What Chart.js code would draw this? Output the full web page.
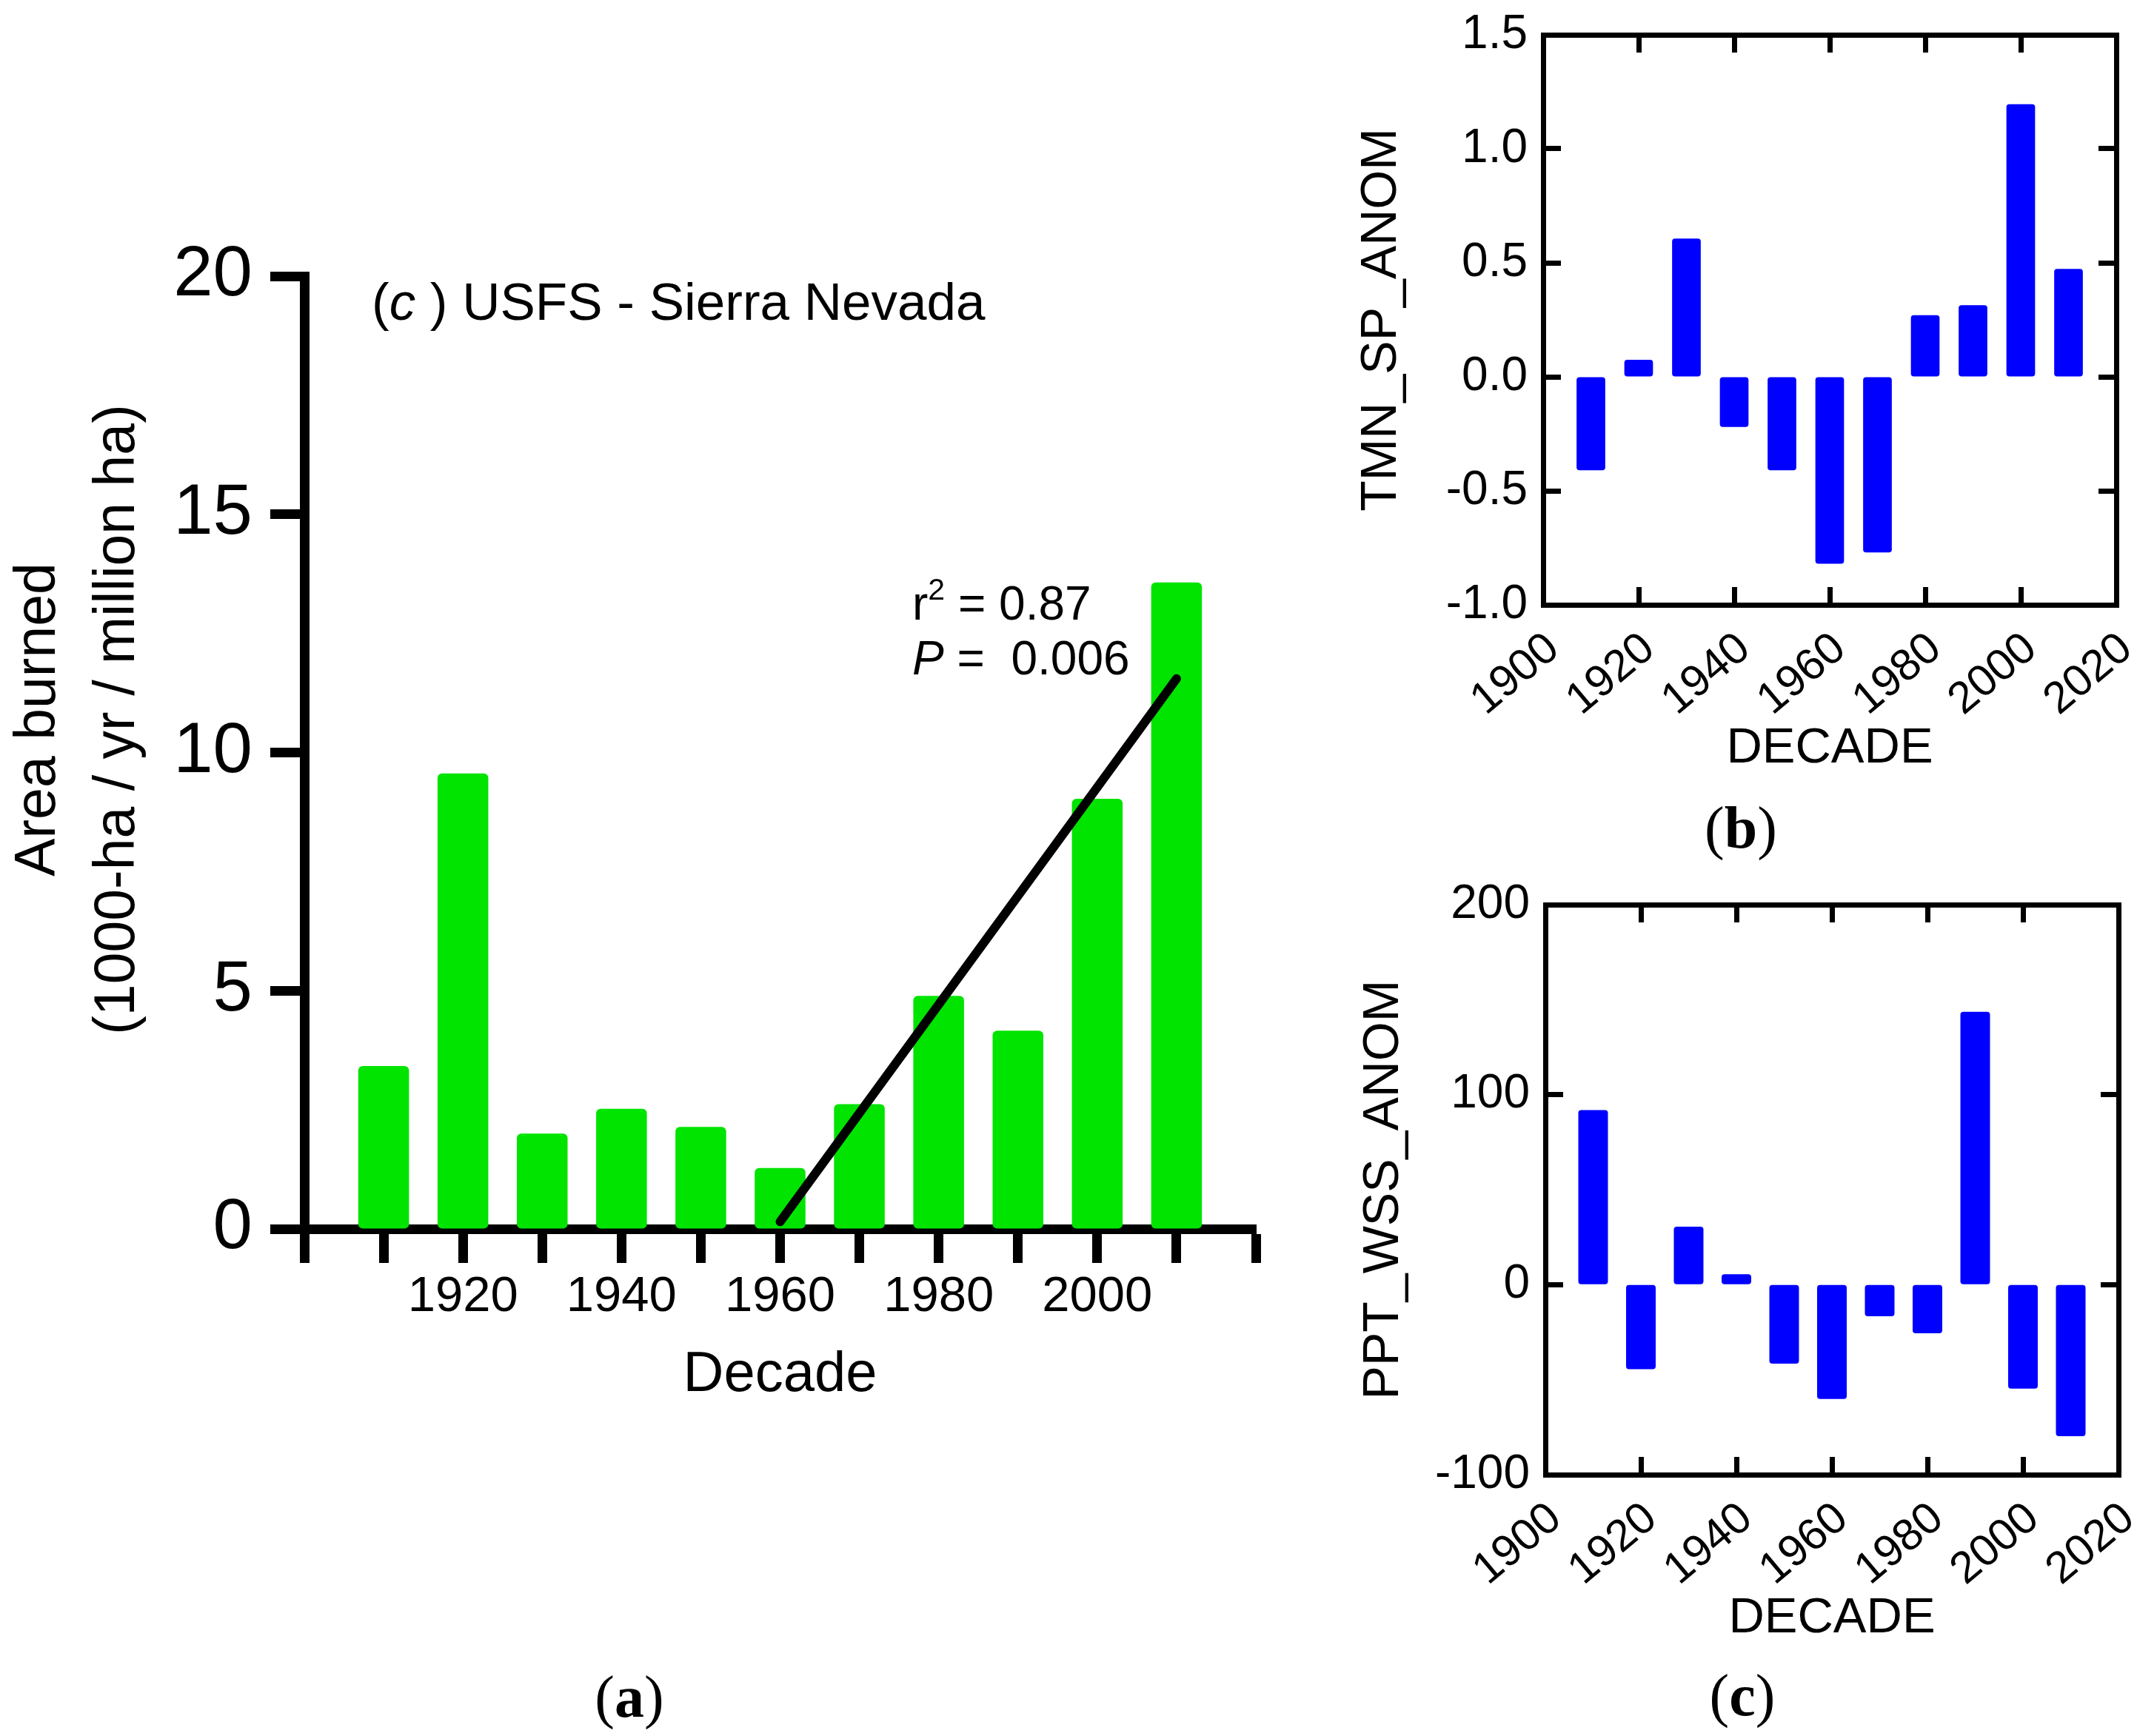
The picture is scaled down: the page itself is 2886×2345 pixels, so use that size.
<!DOCTYPE html>
<html>
<head>
<meta charset="utf-8">
<title>Area burned and decadal climate anomalies</title>
<script src="https://cdn.jsdelivr.net/npm/chart.js@4.4.0/dist/chart.umd.min.js"></script>
<style>
  html, body { margin: 0; padding: 0; background: #fff; }
  body { position: relative; width: 2886px; height: 2345px; overflow: hidden; }
  canvas { position: absolute; }
  #areaChart { left: 0; top: 0; }
  #tmnChart { left: 1790px; top: -53px; }
  #pptChart { left: 1793px; top: 1122px; }
  .panel-label {
    position: absolute;
    font-family: 'Liberation Serif', 'Times New Roman', serif;
    font-size: 80px;
    line-height: 1;
    transform: translate(-50%, -50%);
  }
</style>
</head>
<body>
<canvas id="areaChart" width="1780" height="1960"></canvas>
<canvas id="tmnChart" width="1168" height="1113"></canvas>
<canvas id="pptChart" width="1168" height="1113"></canvas>
<div class="panel-label" style="left:850px; top:2292px">(<b>a</b>)</div>
<div class="panel-label" style="left:2351px; top:1118px">(<b>b</b>)</div>
<div class="panel-label" style="left:2353px; top:2290px">(<b>c</b>)</div>
<script>
// decades shared by all three panels
var decades = [1910, 1920, 1930, 1940, 1950, 1960, 1970, 1980, 1990, 2000, 2010];

// (a) area burned, 1000 ha / yr / million ha
var areaBurned = [3.42, 9.56, 2.0, 2.52, 2.14, 1.28, 2.62, 4.89, 4.16, 9.03, 13.57];
// fitted trend line end points
var trendYears = [1960, 2010];
var trendValues = [0.15, 11.55];
var areaTickLabels = [1920, 1940, 1960, 1980, 2000];

// (b) spring minimum temperature anomaly
var tmnSpAnom = [-0.41, 0.075, 0.606, -0.22, -0.41, -0.82, -0.77, 0.27, 0.314, 1.196, 0.473];
// (c) winter / spring / summer precipitation anomaly
var pptWssAnom = [91.9, -44.5, 30.5, 5.5, -41.6, -60.2, -16.6, -25.6, 143.6, -54.7, -79.7];

var sansFont = "'Liberation Sans', Arial, Helvetica, sans-serif";
Chart.defaults.font.family = sansFont;
Chart.defaults.color = '#000';
Chart.defaults.animation = false;

function points(xs, ys) {
  return xs.map(function (x, i) { return { x: x, y: ys[i] }; });
}

// draws a row of text pieces, each with its own style
function drawRuns(ctx, x, y, runs) {
  runs.forEach(function (r) {
    ctx.font = r.style + ' ' + r.size + 'px ' + sansFont;
    ctx.fillText(r.text, x, y - (r.rise || 0));
    x += ctx.measureText(r.text).width;
  });
}

var areaText = {
  id: 'areaText',
  afterDraw: function (chart) {
    var ctx = chart.ctx;
    ctx.save();
    ctx.fillStyle = '#000';
    ctx.textBaseline = 'alphabetic';
    drawRuns(ctx, 502, 432, [
      { text: '(', style: 'normal', size: 71 },
      { text: 'c', style: 'italic', size: 71 },
      { text: ' ) USFS - Sierra Nevada', style: 'normal', size: 71 }
    ]);
    drawRuns(ctx, 1232, 837, [
      { text: 'r', style: 'normal', size: 64 },
      { text: '2', style: 'normal', size: 41, rise: 27 },
      { text: ' = 0.87', style: 'normal', size: 64 }
    ]);
    drawRuns(ctx, 1232, 911, [
      { text: 'P', style: 'italic', size: 64 },
      { text: ' =  0.006', style: 'normal', size: 64 }
    ]);

    // two-line y axis title
    ctx.translate(53, 972);
    ctx.rotate(-Math.PI / 2);
    ctx.textAlign = 'center';
    ctx.textBaseline = 'middle';
    ctx.font = 'normal 77px ' + sansFont;
    ctx.fillText('Area burned', 0, 0);
    ctx.fillText('(1000-ha / yr / million ha)', 0, 107);
    ctx.restore();
  }
};

var areaChart = new Chart(document.getElementById('areaChart'), {
  type: 'bar',
  data: {
    datasets: [{
      type: 'line',
      label: 'Trend',
      data: points(trendYears, trendValues),
      borderColor: '#000',
      borderWidth: 12,
      borderCapStyle: 'round',
      pointRadius: 0,
      order: 0
    }, {
      label: 'Area burned',
      data: points(decades, areaBurned),
      backgroundColor: '#00e400',
      borderWidth: 0,
      borderRadius: 6,
      borderSkipped: false,
      categoryPercentage: 1,
      barPercentage: 0.64,
      order: 1
    }]
  },
  options: {
    responsive: false,
    layout: { padding: { top: 373, left: 0, right: 84, bottom: 0 } },
    plugins: { legend: { display: false }, tooltip: { enabled: false } },
    scales: {
      x: {
        type: 'linear',
        min: 1900,
        max: 2020,
        offset: false,
        afterFit: function (scale) { scale.height = 300; },
        ticks: {
          stepSize: 10,
          autoSkip: false,
          maxRotation: 0,
          padding: 6,
          font: { size: 67 },
          callback: function (v) { return areaTickLabels.indexOf(v) >= 0 ? String(v) : ''; }
        },
        grid: { offset: false, drawOnChartArea: false, tickLength: 46, tickWidth: 13, tickColor: '#000' },
        border: { color: '#000', width: 13 },
        title: { display: true, text: 'Decade', font: { size: 76 }, padding: { top: 0, bottom: 56 } }
      },
      y: {
        min: 0,
        max: 20,
        afterFit: function (scale) { scale.width = 411; },
        ticks: { stepSize: 5, padding: 24, font: { size: 96 } },
        grid: { drawOnChartArea: false, tickLength: 46, tickWidth: 13, tickColor: '#000' },
        border: { color: '#000', width: 13 }
      }
    }
  },
  plugins: [areaText]
});

// boxed panels (b) and (c): ticks point inwards on all four sides
function boxAxis(position, min, max, step, size, extra) {
  var horizontal = position === 'top' || position === 'bottom';
  var axis = {
    type: 'linear',
    position: position,
    min: min,
    max: max,
    offset: false,
    afterFit: function (scale) {
      if (horizontal) { scale.height = size; } else { scale.width = size; }
    },
    ticks: { stepSize: step, display: false },
    grid: { offset: false, drawOnChartArea: false, tickLength: -24, tickWidth: 7, tickColor: '#000' },
    border: { color: '#000', width: 7 }
  };
  return Object.assign(axis, extra || {});
}

function anomalyChart(id, values, yMin, yMax, yStep, yTitle, yFormat, barPct) {
  return new Chart(document.getElementById(id), {
    type: 'bar',
    data: {
      datasets: [{
        label: yTitle,
        data: points(decades, values),
        backgroundColor: '#0000ff',
        borderWidth: 0,
        borderRadius: 4,
        borderSkipped: false,
        categoryPercentage: 1,
        barPercentage: barPct
      }]
    },
    options: {
      responsive: false,
      layout: { padding: 0 },
      plugins: { legend: { display: false }, tooltip: { enabled: false } },
      scales: {
        x: boxAxis('bottom', 1900, 2020, 20, 243, {
          ticks: {
            stepSize: 20,
            autoSkip: false,
            minRotation: 40,
            maxRotation: 40,
            padding: 48,
            labelOffset: 14,
            font: { size: 60 },
            callback: function (v) { return String(v); }
          },
          title: { display: true, text: 'DECADE', font: { size: 67 }, padding: { top: 0, bottom: 8 } }
        }),
        x2: boxAxis('top', 1900, 2020, 20, 100),
        y: boxAxis('left', yMin, yMax, yStep, 294, {
          ticks: {
            stepSize: yStep,
            padding: 45,
            font: { size: 64 },
            callback: yFormat
          },
          title: { display: true, text: yTitle, font: { size: 68 }, padding: { top: 35, bottom: 0 } }
        }),
        y2: boxAxis('right', yMin, yMax, yStep, 100)
      }
    }
  });
}

var tmnChart = anomalyChart('tmnChart', tmnSpAnom, -1.0, 1.5, 0.5, 'TMN_SP_ANOM',
  function (v) { return v.toFixed(1); }, 0.6);
var pptChart = anomalyChart('pptChart', pptWssAnom, -100, 200, 100, 'PPT_WSS_ANOM',
  function (v) { return String(v); }, 0.62);
</script>
</body>
</html>
